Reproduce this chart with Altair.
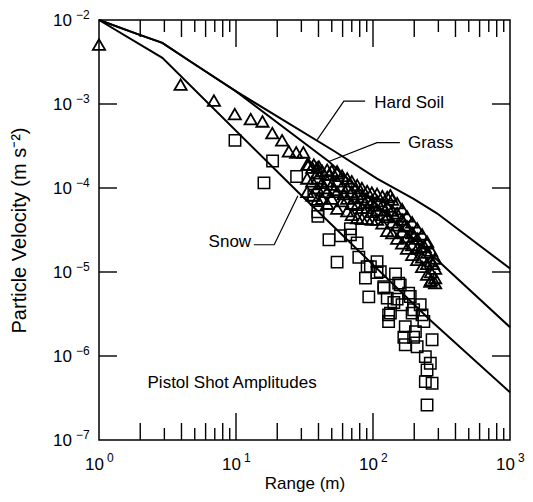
import altair as alt
import pandas as pd

W, H = 411, 420
FONT = "Liberation Sans"

# ---- model curves (range m, particle velocity) ----
hard_x = [1, 1.96, 2.9, 4.8, 9.9, 53, 107, 198, 293, 1000]
hard_y = [1e-2, 6.7e-3, 5.35e-3, 3.1e-3, 1.43e-3, 2.7e-4, 1.29e-4, 7.4e-5, 5.0e-5, 1.1e-5]
grass_x = [1, 1.96, 2.9, 4.8, 9.9, 47.6, 293, 1000]
grass_y = [1e-2, 6.7e-3, 5.35e-3, 3.1e-3, 1.43e-3, 2.07e-4, 1.4e-5, 2.2e-6]
snow_x = [1, 2.9, 28.8, 261, 1000]
snow_y = [1e-2, 3.55e-3, 8.7e-5, 2.69e-6, 3.7e-7]

# ---- measured pistol shots over grass (triangles) ----
tri_x = [
    1.0, 3.94, 6.9, 9.8, 12.8, 15.6, 18.4, 21.7, 24.3, 27.5, 31.0, 34.0, 37.0, 40.3, 39.2, 47.7, 54.7,
    33.1, 33.1, 33.1, 36.0, 36.0, 36.0, 39.2, 39.2, 39.2, 39.2, 42.5, 42.5, 42.5,
    46.3, 46.3, 46.3, 46.3, 50.0, 50.0, 50.0, 54.7, 54.7, 54.7, 54.7, 59.5, 59.5, 59.5,
    64.8, 64.8, 64.8, 64.8, 70.0, 70.0, 70.0, 70.0, 76.6, 76.6, 76.6, 76.6, 83.0, 83.0, 83.0, 83.0,
    90.6, 90.6, 90.6, 90.6, 98.0, 98.0, 98.0, 98.0, 107, 107, 107, 107, 117, 117, 117, 117,
    127, 127, 127, 127, 134, 138, 138, 138, 138, 150, 150, 150, 150, 163, 163, 163, 163,
    177, 177, 177, 177, 193, 193, 193, 193, 210, 210, 210, 210, 228, 228, 228, 228,
    248, 248, 248, 248, 248, 265, 265, 265, 265, 284, 284, 284, 284, 262,
    44.0, 52.0, 61.0, 73.0, 87.0, 102, 122, 144, 170, 200, 238, 275]
tri_y = [
    5.1e-3, 1.7e-3, 1.1e-3, 7.6e-4, 6.6e-4, 6.2e-4, 4.5e-4, 3.7e-4, 2.73e-4, 2.65e-4, 2.65e-4, 1.9e-4, 1.9e-4, 1.8e-4, 1.5e-4, 1.44e-4, 1.58e-4,
    1.9e-4, 1.3e-4, 9.0e-5, 1.75e-4, 1.2e-4, 8.2e-5, 1.75e-4, 1.3e-4, 1.0e-4, 7.3e-5, 1.6e-4, 1.15e-4, 7.5e-5,
    1.65e-4, 1.2e-4, 9.0e-5, 6.5e-5, 1.6e-4, 1.1e-4, 7.5e-5, 1.5e-4, 1.2e-4, 9.0e-5, 5.7e-5, 1.4e-4, 1.05e-4, 7.0e-5,
    1.3e-4, 1.0e-4, 7.5e-5, 5.3e-5, 1.2e-4, 9.0e-5, 6.5e-5, 4.8e-5, 1.08e-4, 8.5e-5, 6.3e-5, 4.4e-5, 1.0e-4, 7.8e-5, 5.8e-5, 4.3e-5,
    9.2e-5, 7.3e-5, 5.8e-5, 4.3e-5, 8.8e-5, 6.8e-5, 5.2e-5, 4.2e-5, 8.5e-5, 7.0e-5, 5.5e-5, 4.2e-5, 8.0e-5, 6.3e-5, 4.8e-5, 3.8e-5,
    7.8e-5, 6.0e-5, 4.5e-5, 3.1e-5, 8.2e-5, 7.3e-5, 5.4e-5, 3.9e-5, 2.9e-5, 6.6e-5, 5.0e-5, 3.6e-5, 2.5e-5, 5.6e-5, 4.2e-5, 3.0e-5, 2.2e-5,
    4.6e-5, 3.5e-5, 2.6e-5, 1.9e-5, 3.9e-5, 2.9e-5, 2.1e-5, 1.6e-5, 3.3e-5, 2.5e-5, 1.9e-5, 1.4e-5, 2.8e-5, 2.0e-5, 1.5e-5, 1.15e-5,
    2.3e-5, 2.2e-5, 1.7e-5, 1.25e-5, 9.3e-6, 1.8e-5, 1.35e-5, 1.0e-5, 8.0e-6, 1.45e-5, 1.1e-5, 8.5e-6, 7.4e-6, 7.7e-6,
    1.0e-4, 9.5e-5, 8.5e-5, 7.6e-5, 6.6e-5, 6.2e-5, 5.4e-5, 4.6e-5, 3.6e-5, 2.7e-5, 2.0e-5, 1.25e-5]

# ---- measured pistol shots over snow (squares) ----
sq_x = [9.83, 16.0, 18.5, 27.7, 37.0, 39.6, 39.6, 47.7, 57.9, 68.4, 68.4, 76.6, 54.7, 78.8, 95.7, 107,
        88.1, 113, 93.2, 120, 127, 146, 154, 130, 130, 163, 187, 172, 193, 221, 204, 168, 172, 210,
        270, 241, 262, 248, 241, 270, 248, 158, 182, 142, 235, 198, 134, 228, 198, 150, 107, 90.6, 120]
sq_y = [3.69e-4, 1.15e-4, 2.1e-4, 1.37e-4, 8.2e-5, 5.2e-5, 4.6e-5, 2.42e-5, 2.7e-5, 3.27e-5, 2.77e-5,
        2.21e-5, 1.31e-5, 1.5e-5, 1.16e-5, 1.33e-5, 8.45e-6, 1.01e-5, 5.06e-6, 6.67e-6, 4.89e-6, 9.5e-6,
        7.38e-6, 3.09e-6, 2.57e-6, 4.07e-6, 5.1e-6, 2.24e-6, 3.24e-6, 4.07e-6, 1.95e-6, 1.67e-6, 1.36e-6,
        1.29e-6, 1.56e-6, 9.84e-7, 8.2e-7, 6.82e-7, 4.95e-7, 4.74e-7, 2.61e-7, 7.03e-6, 5.6e-6, 4.33e-6,
        2.57e-6, 1.67e-6, 3.24e-6, 3.09e-6, 3.55e-6, 4.75e-6, 9.86e-6, 1.16e-5, 6.43e-6]

# ---- annotations ----
lab_left = ["Hard Soil", "Grass", "Pistol Shot Amplitudes"]
lab_left_x = [102, 180, 2.26]
lab_left_y = [1.04e-3, 3.47e-4, 4.8e-7]
lab_right = ["Snow"]
lab_right_x = [12.9]
lab_right_y = [2.29e-5]

lead_hard_x = [87.6, 61.3, 39.2]
lead_hard_y = [1.08e-3, 1.08e-3, 3.77e-4]
lead_grass_x = [157, 107, 47.6]
lead_grass_y = [3.47e-4, 3.47e-4, 2.07e-4]
lead_snow_x = [13.5, 19.0, 28.3]
lead_snow_y = [2.11e-5, 2.11e-5, 8.1e-5]

# ---- axis ticks / labels ----
x_major = [10, 100]
x_even = [2, 4, 6, 8, 20, 40, 60, 80, 200, 400, 600, 800]
x_odd = [3, 5, 7, 9, 30, 50, 70, 90, 300, 500, 700, 900]
y_major = [1e-3, 1e-4, 1e-5, 1e-6]
x_lab_vals = [1, 10, 100, 1000]
x_lab_exp = ["0", "1", "2", "3"]
y_lab_vals = [1e-2, 1e-3, 1e-4, 1e-5, 1e-6, 1e-7]
y_lab_exp = ["\u22122", "\u22123", "\u22124", "\u22125", "\u22126", "\u22127"]


def series(name, xs, ys):
    return pd.DataFrame({"x": xs, "y": ys, "id": name, "i": range(len(xs))})


curves_df = pd.concat([series("Hard Soil", hard_x, hard_y),
                       series("Grass", grass_x, grass_y),
                       series("Snow", snow_x, snow_y)])
leads_df = pd.concat([series("hard", lead_hard_x, lead_hard_y),
                      series("grass", lead_grass_x, lead_grass_y),
                      series("snow", lead_snow_x, lead_snow_y)])
tri_df = pd.DataFrame({"x": tri_x, "y": tri_y})
sq_df = pd.DataFrame({"x": sq_x, "y": sq_y})
labl_df = pd.DataFrame({"x": lab_left_x, "y": lab_left_y, "t": lab_left})
labr_df = pd.DataFrame({"x": lab_right_x, "y": lab_right_y, "t": lab_right})
xlab_df = pd.DataFrame({"x": x_lab_vals, "e": x_lab_exp, "b": "10"})
ylab_df = pd.DataFrame({"y": y_lab_vals, "e": y_lab_exp, "b": "10"})

xs = alt.Scale(type="log", domain=[1, 1000])
ys = alt.Scale(type="log", domain=[1e-7, 1e-2])
xaxis = alt.Axis(title="Range (m)", labels=False, ticks=False, domain=False, grid=False,
                 titleFont=FONT, titleFontSize=17, titleFontWeight="normal",
                 titlePadding=35, titleColor="black")
yaxis = alt.Axis(title="Particle Velocity (m s\u207b\u00b2)", labels=False, ticks=False, domain=False,
                 grid=False, titleFont=FONT, titleFontSize=20, titleFontWeight="normal",
                 titlePadding=70, titleColor="black")
X = alt.X("x:Q", scale=xs, axis=xaxis)
Y = alt.Y("y:Q", scale=ys, axis=yaxis)

curves = alt.Chart(curves_df).mark_line(color="black", strokeWidth=2).encode(
    x=X, y=Y, detail="id:N", order="i:Q")
leads = alt.Chart(leads_df).mark_line(color="black", strokeWidth=1.2).encode(
    x=X, y=Y, detail="id:N", order="i:Q")
tris = alt.Chart(tri_df).mark_point(shape="triangle-up", size=150, filled=False, color="black",
                                    strokeWidth=1.8, opacity=1).encode(x=X, y=Y)
sqs = alt.Chart(sq_df).mark_point(shape="square", size=130, filled=False, color="black",
                                  strokeWidth=1.5, opacity=1).encode(x=X, y=Y)
labl = alt.Chart(labl_df).mark_text(font=FONT, fontSize=17, align="left", baseline="middle",
                                    color="black").encode(x=X, y=Y, text="t:N")
labr = alt.Chart(labr_df).mark_text(font=FONT, fontSize=17, align="right", baseline="middle",
                                    color="black").encode(x=X, y=Y, text="t:N")


def xticks(vals, length):
    d = pd.DataFrame({"x": vals})
    bot = alt.Chart(d).mark_rule(color="black", strokeWidth=1.4).encode(
        x=X, y=alt.value(H), y2=alt.value(H - length))
    top = alt.Chart(d).mark_rule(color="black", strokeWidth=1.4).encode(
        x=X, y=alt.value(0), y2=alt.value(length))
    return [bot, top]


yd = pd.DataFrame({"y": y_major})
yt_left = alt.Chart(yd).mark_rule(color="black", strokeWidth=1.4).encode(
    y=Y, x=alt.value(0), x2=alt.value(18))
yt_right = alt.Chart(yd).mark_rule(color="black", strokeWidth=1.4).encode(
    y=Y, x=alt.value(W), x2=alt.value(W - 18))

xl_base = alt.Chart(xlab_df).mark_text(font=FONT, fontSize=17, align="right", baseline="alphabetic",
                                       dx=5, color="black").encode(x=X, y=alt.value(H + 30), text="b:N")
xl_exp = alt.Chart(xlab_df).mark_text(font=FONT, fontSize=12, align="left", baseline="alphabetic",
                                      dx=8, color="black").encode(x=X, y=alt.value(H + 22), text="e:N")
yl_base = alt.Chart(ylab_df).mark_text(font=FONT, fontSize=17, align="right", baseline="alphabetic",
                                       dy=6, color="black").encode(y=Y, x=alt.value(-27), text="b:N")
yl_exp = alt.Chart(ylab_df).mark_text(font=FONT, fontSize=12, align="left", baseline="alphabetic",
                                      dy=-1, color="black").encode(y=Y, x=alt.value(-23), text="e:N")

layers = [curves, leads, tris, sqs, labl, labr]
layers += xticks(x_major, 27) + xticks(x_even, 17) + xticks(x_odd, 12)
layers += [yt_left, yt_right, xl_base, xl_exp, yl_base, yl_exp]

chart = alt.layer(*layers).properties(
    width=W, height=H,
    padding={"left": 91, "top": 12, "right": 15, "bottom": 54},
    autosize=alt.AutoSizeParams(type="none"),
).configure_view(stroke="black", strokeWidth=1.5)

chart.save("out.html", embed_options={"renderer": "svg", "actions": False})
